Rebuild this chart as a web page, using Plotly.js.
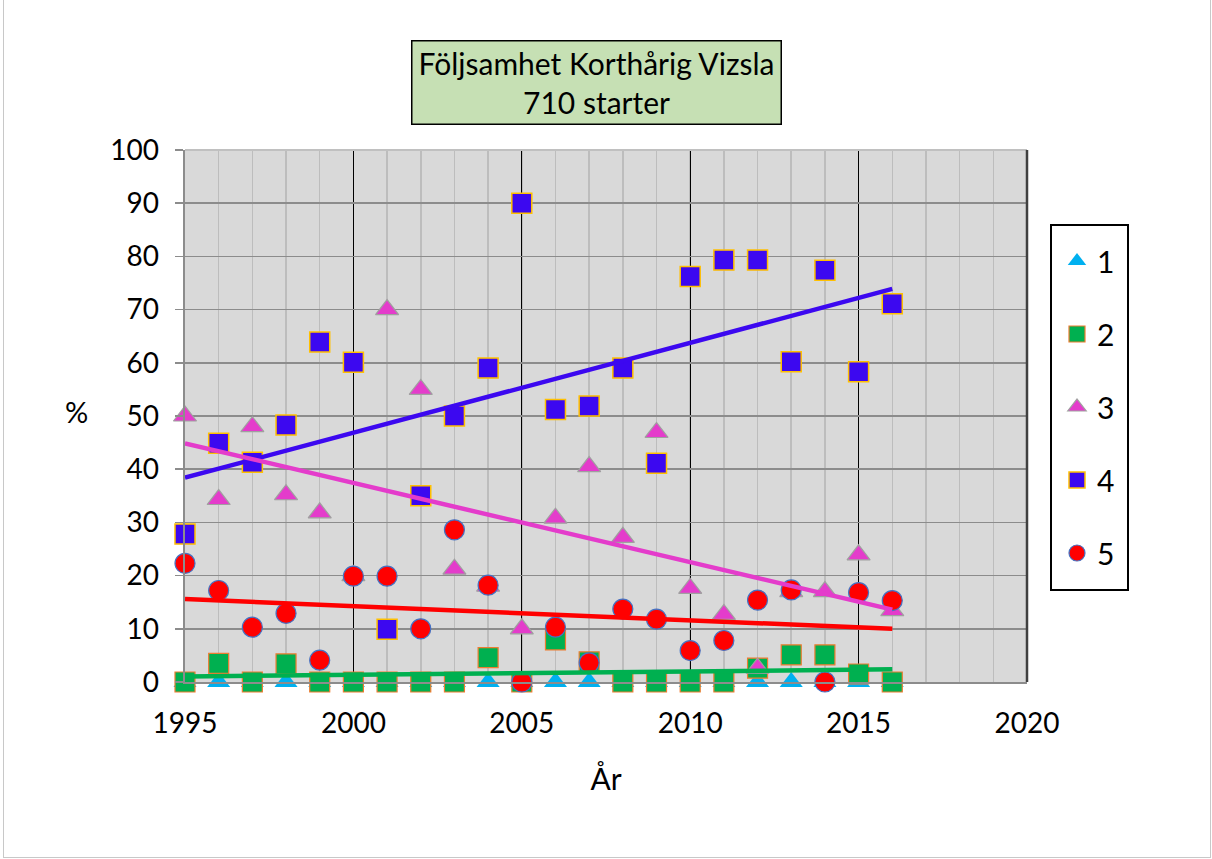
<!DOCTYPE html>
<html>
<head>
<meta charset="utf-8">
<script src="https://cdn.plot.ly/plotly-3.0.1.min.js"></script>
<style>
  html, body { margin: 0; padding: 0; background: #fff; }
  #chart { position: absolute; left: 0; top: 0; width: 1212px; height: 859px; }
  #frame { position: absolute; left: 3px; top: -1px; width: 1206px; height: 857px; border: 1px solid #c8c8c8; pointer-events: none; }
</style>
</head>
<body>
<div id="chart"></div>
<div id="frame"></div>
<script>
// ---- data ----
const years = [1995, 1996, 1997, 1998, 1999, 2000, 2001, 2002, 2003, 2004, 2005,
               2006, 2007, 2008, 2009, 2010, 2011, 2012, 2013, 2014, 2015, 2016];
const series1 = [0, 0, 0, 0, 0, 0, 0, 0, 0, 0, 0,
                 0, 0, 0, 0, 0, 0, 0, 0, 0, 0, 0];
const series2 = [0, 3.5, 0, 3.4, 0, 0, 0, 0, 0, 4.6, 0,
                 7.9, 3.8, 0, 0, 0, 0, 2.6, 5.1, 5.1, 1.5, 0];
const series3 = [50, 34.3, 48, 35.2, 31.8, 20, 70, 55, 21.2, 18, 10,
                 30.8, 40.5, 27.2, 46.9, 17.6, 12.7, 2.6, 17, 17, 23.9, 13.4];
const series4 = [27.8, 44.9, 41.3, 48.3, 63.9, 60.1, 9.9, 35, 50, 59, 90,
                 51.2, 51.9, 59, 41.1, 76.2, 79.3, 79.3, 60.2, 77.4, 58.3, 71.1];
const series5 = [22.3, 17.2, 10.3, 12.9, 4.1, 19.9, 19.9, 10, 28.6, 18.2, 0,
                 10.3, 3.6, 13.7, 11.8, 5.9, 7.8, 15.4, 17.3, 0, 16.8, 15.3];
const seriesNames = ['1', '2', '3', '4', '5'];
const xTickVals = [1995, 2000, 2005, 2010, 2015, 2020];
const yTickVals = [0, 10, 20, 30, 40, 50, 60, 70, 80, 90, 100];
const titleLines = ['Följsamhet Korthårig Vizsla', '710 starter'];
const xTitle = 'År';
const yTitle = '%';

// ---- linear trend (least squares) ----
function trend(xs, ys) {
  const n = xs.length;
  let mx = 0, my = 0;
  for (let i = 0; i < n; i++) { mx += xs[i]; my += ys[i]; }
  mx /= n; my /= n;
  let sxy = 0, sxx = 0;
  for (let i = 0; i < n; i++) { sxy += (xs[i] - mx) * (ys[i] - my); sxx += (xs[i] - mx) ** 2; }
  const b = sxy / sxx, a = my - b * mx;
  const x0 = xs[0], x1 = xs[n - 1];
  return { x: [x0, x1], y: [a + b * x0, a + b * x1] };
}

const FONT = 'Lato, "Open Sans", sans-serif';
const C1 = '#00b0f0', C2 = '#00b050', C3 = '#e43ccb', C4 = '#3c08f0', C5 = '#ff0000';

function markerTrace(y, name, marker) {
  return { type: 'scatter', mode: 'markers', x: years, y: y, name: name,
           legendgroup: 'g' + name, marker: marker, cliponaxis: false, hoverinfo: 'x+y' };
}
function trendTrace(y, color) {
  const t = trend(years, y);
  return { type: 'scatter', mode: 'lines', x: t.x, y: t.y, showlegend: false,
           line: { color: color, width: 4.5 }, hoverinfo: 'skip', cliponaxis: false };
}

const data = [
  markerTrace(series1, seriesNames[0], { symbol: 'triangle-up', size: 20, color: C1, line: { color: C1, width: 0 } }),
  markerTrace(series2, seriesNames[1], { symbol: 'square', size: 20, color: C2, line: { color: '#ed7d31', width: 1.2 } }),
  markerTrace(series3, seriesNames[2], { symbol: 'triangle-up', size: 20, color: C3, line: { color: '#a0a0a0', width: 1.2 } }),
  markerTrace(series4, seriesNames[3], { symbol: 'square', size: 20, color: C4, line: { color: '#ffc000', width: 1.5 } }),
  markerTrace(series5, seriesNames[4], { symbol: 'circle', size: 20, color: C5, line: { color: '#4472c4', width: 1.2 } }),
  trendTrace(series2, C2),
  trendTrace(series5, C5),
  trendTrace(series4, C4),
  trendTrace(series3, C3)
];

const L = 185, R = 185, T = 150, B = 177;
const plotW = 1212 - L - R, plotH = 859 - T - B;
function px2x(p) { return (p - L) / plotW; }
function px2y(p) { return (859 - B - p) / plotH; }

const layout = {
  width: 1212, height: 859,
  margin: { l: L, r: R, t: T, b: B, pad: 0 },
  paper_bgcolor: '#ffffff',
  plot_bgcolor: '#d9d9d9',
  font: { family: FONT, color: '#000', size: 28 },
  showlegend: true,
  legend: {
    x: px2x(1057), y: px2y(235), xanchor: 'left', yanchor: 'top',
    bordercolor: '#000', borderwidth: 0, bgcolor: 'rgba(0,0,0,0)',
    font: { family: FONT, size: 30, color: '#000' },
    tracegroupgap: 31, itemsizing: 'trace', valign: 'middle'
  },
  xaxis: {
    range: [1995, 2020], tickvals: xTickVals, ticktext: xTickVals.map(String),
    showgrid: true, gridcolor: '#000', gridwidth: 1.3,
    minor: { dtick: 1, tick0: 1995, showgrid: true, gridcolor: '#bdbdbd', gridwidth: 1.5 },
    showline: true, linecolor: '#8c8c8c', linewidth: 2, mirror: false,
    zeroline: false, ticks: '', ticklabelstandoff: 15,
    tickfont: { family: FONT, size: 28, color: '#000' },
    title: { text: xTitle, font: { family: FONT, size: 30, color: '#000' }, standoff: 31 }
  },
  yaxis: {
    range: [0, 100], tickvals: yTickVals, ticktext: yTickVals.map(String),
    showgrid: true, gridcolor: '#8c8c8c', gridwidth: 1.5,
    showline: true, linecolor: '#8c8c8c', linewidth: 2.5,
    zeroline: false, ticks: 'outside', ticklen: 8, tickcolor: '#8c8c8c', tickwidth: 1.5,
    ticklabelstandoff: 10,
    tickfont: { family: FONT, size: 28, color: '#000' },
    title: { text: '' }
  },
  shapes: [
    { type: 'line', xref: 'paper', yref: 'paper', x0: 0, x1: 1, y0: 1, y1: 1, line: { color: '#c0c0c0', width: 2 } },
    { type: 'line', xref: 'paper', yref: 'paper', x0: 1, x1: 1, y0: 0, y1: 1, line: { color: '#404040', width: 2.5 } },
    { type: 'rect', xref: 'paper', yref: 'paper', x0: px2x(1051), x1: px2x(1128), y0: px2y(590), y1: px2y(225),
      line: { color: '#000', width: 2 }, fillcolor: 'rgba(0,0,0,0)', layer: 'above' }
  ],
  annotations: [
    { xref: 'paper', yref: 'paper', x: px2x(596.5), y: px2y(82.5), xanchor: 'center', yanchor: 'middle',
      text: titleLines.join('<br>'), showarrow: false,
      font: { family: FONT, size: 30, color: '#000' },
      bgcolor: '#c6e0b4', bordercolor: '#000', borderwidth: 1.5, borderpad: 0,
      width: 368, height: 82, align: 'center' },
    { xref: 'paper', yref: 'paper', x: px2x(76), y: px2y(412), xanchor: 'center', yanchor: 'middle',
      text: yTitle, showarrow: false, font: { family: FONT, size: 29, color: '#000' } }
  ]
};

Plotly.newPlot('chart', data, layout, { displayModeBar: false, staticPlot: true });
</script>
</body>
</html>
